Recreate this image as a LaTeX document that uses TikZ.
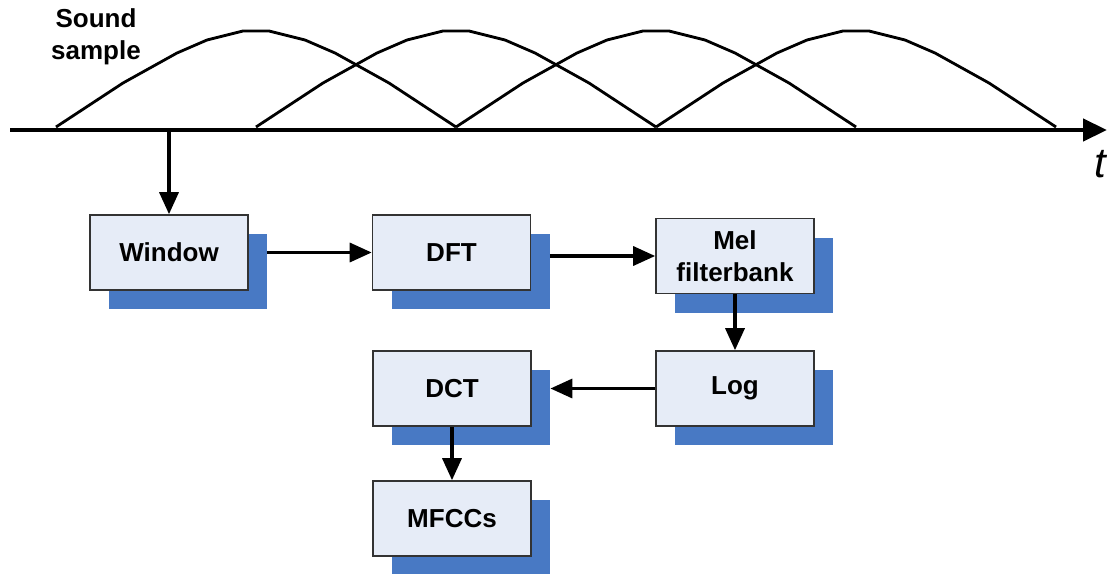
\documentclass[tikz,border=0pt]{standalone}
\usepackage{fontspec}
\setmainfont{Liberation Sans}
\usetikzlibrary{arrows.meta}

\definecolor{boxfill}{RGB}{230,236,247}
\definecolor{shadowblue}{RGB}{72,121,196}

\begin{document}
\begin{tikzpicture}[x=0.5pt, y=-0.5pt, >={Triangle[length=11pt, width=9.5pt]},
    blk/.style={draw=black!80, line width=0.8pt, fill=boxfill,
      minimum width=79pt, minimum height=37.5pt, inner sep=0pt, align=center,
      font=\bfseries\fontsize{13}{16}\selectfont},
    shd/.style={fill=shadowblue, minimum width=79pt, minimum height=37.5pt, inner sep=0pt},
    link/.style={->, line width=1.7pt}]
    \useasboundingbox (0,0) rectangle (1107,573);

    % Zeitachse
    \coordinate (t0) at (10,130);
    \coordinate (t1) at (1107,130);
    \draw[line width=2.2pt, -{Triangle[length=12pt, width=11pt]}] (t0) -- (t1);
    \node[anchor=base west, inner sep=0pt, font=\itshape\fontsize{21}{21}\selectfont] (tlab) at (1094,177) {t};
    \node[align=center, font=\bfseries\fontsize{13}{16}\selectfont] (snd) at (96,37) {Sound\\sample};

    % Fenster (ueberlappend)
    \foreach \a in {56, 256, 456, 656}
      \draw[line width=1.4pt, line join=round, shift={(\a,0)}] plot coordinates
        {(0,127) (67,83) (121,53) (151,40) (187,31) (213,31) (249,40) (279,53) (333,83) (400,127)};

    % Schatten
    \node[shd] (win-sh) at (188,271.5) {};
    \node[shd] (dft-sh) at (470.5,271.5) {};
    \node[shd] (mel-sh) at (754,275) {};
    \node[shd] (log-sh) at (754,407.5) {};
    \node[shd] (dct-sh) at (471,407.5) {};
    \node[shd] (mfcc-sh) at (471,537.5) {};

    % Bloecke
    \node[blk] (win) at (169,252.5) {Window};
    \node[blk] (dft) at (451.5,252.5) {DFT};
    \node[blk] (mel) at (735,256) {Mel\\filterbank};
    \node[blk] (log) at (735,388.5) {Log};
    \node[blk] (dct) at (452,388.5) {DCT};
    \node[blk] (mfcc) at (452,518.5) {MFCCs};

    % Pfeile
    \coordinate (tap) at (169,130);
    \draw[link] (tap) -- (win.north);
    \draw[link] (win-sh.east |- win.east) -- (dft.west);
    \draw[link] (dft-sh.east |- mel.west) -- (mel.west);
    \draw[link] (mel.south) -- (log.north);
    \draw[link] (log.west) -- (dct-sh.east |- log.west);
    \draw[link] (dct.south) -- (mfcc.north);
\end{tikzpicture}
\end{document}
